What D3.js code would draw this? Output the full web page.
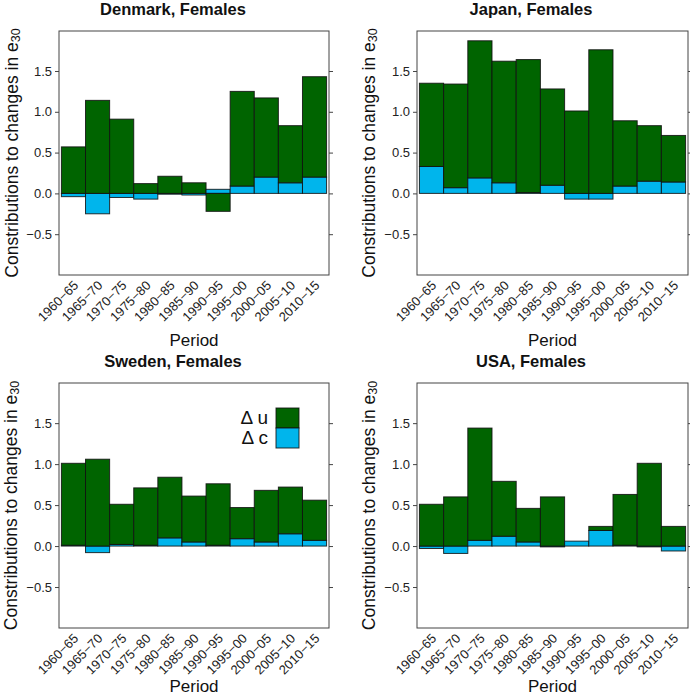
<!DOCTYPE html>
<html>
<head>
<meta charset="utf-8">
<script src="https://cdn.jsdelivr.net/npm/d3@7"></script>
<style>
  html, body { margin: 0; padding: 0; background: #fff; }
  svg { display: block; font-family: "Liberation Sans", Arial, Helvetica, sans-serif; }
</style>
</head>
<body>
<svg id="chart" width="690" height="699"></svg>
<script>
// ---- data ----
const periods = ["1960\u221265","1965\u221270","1970\u221275","1975\u221280","1980\u221285","1985\u221290","1990\u221295","1995\u221200","2000\u221205","2005\u221210","2010\u221215"];
const yTicks = [-0.5, 0.0, 0.5, 1.0, 1.5];

const denmarkU = [0.57, 1.14, 0.91, 0.12, 0.21, 0.13, -0.22, 1.16, 0.97, 0.70, 1.23];
const denmarkC = [-0.04, -0.25, -0.05, -0.07, -0.01, -0.02, 0.05, 0.09, 0.20, 0.13, 0.20];

const japanU = [1.02, 1.27, 1.68, 1.49, 1.63, 1.18, 1.01, 1.76, 0.80, 0.68, 0.57];
const japanC = [0.33, 0.07, 0.19, 0.13, 0.01, 0.10, -0.07, -0.07, 0.09, 0.15, 0.14];

const swedenU = [1.00, 1.06, 0.49, 0.70, 0.74, 0.56, 0.75, 0.38, 0.63, 0.57, 0.49];
const swedenC = [0.01, -0.08, 0.02, 0.01, 0.10, 0.05, 0.01, 0.09, 0.05, 0.15, 0.07];

const usaU = [0.51, 0.60, 1.37, 0.67, 0.41, 0.60, 0.00, 0.05, 0.62, 1.01, 0.24];
const usaC = [-0.03, -0.09, 0.07, 0.12, 0.05, -0.01, 0.06, 0.19, 0.01, -0.01, -0.06];

const seriesNames = ["\u0394 u", "\u0394 c"];
const colU = "#006400";
const colC = "#00B5EC";

// ---- layout ----
const panels = [
  {title: "Denmark, Females", u: denmarkU, c: denmarkC, left: 59, right: 329, top: 31, bottom: 275, titleX: 173, titleY: 15, ylabX: 12, perY: 346, legend: false},
  {title: "Japan, Females", u: japanU, c: japanC, left: 417, right: 688, top: 31, bottom: 275, titleX: 531, titleY: 15, ylabX: 369, perY: 346, legend: false},
  {title: "Sweden, Females", u: swedenU, c: swedenC, left: 59, right: 329, top: 383, bottom: 628, titleX: 173, titleY: 367, ylabX: 11, perY: 692, legend: true},
  {title: "USA, Females", u: usaU, c: usaC, left: 417, right: 688, top: 383, bottom: 628, titleX: 531, titleY: 367, ylabX: 369, perY: 692, legend: false}
];

const svg = d3.select("#chart");
const axisCol = "#444";

panels.forEach(p => {
  const g = svg.append("g");
  const x = d3.scaleLinear().domain([0.4, periods.length + 0.6]).range([p.left, p.right]);
  const y = d3.scaleLinear().domain([-1.0, 1.99]).range([p.bottom, p.top]);

  // bars: stack positives upward and negatives downward, c first then u
  const rects = [];
  periods.forEach((per, i) => {
    let pos = 0, neg = 0;
    [{v: p.c[i], col: colC}, {v: p.u[i], col: colU}].forEach(s => {
      let y0, y1;
      if (s.v >= 0) { y0 = pos; y1 = pos + s.v; pos = y1; }
      else { y0 = neg + s.v; y1 = neg; neg = y0; }
      rects.push({i: i + 1, y0, y1, col: s.col});
    });
  });
  g.selectAll("rect.bar").data(rects).join("rect")
    .attr("class", "bar")
    .attr("x", d => x(d.i - 0.5))
    .attr("width", d => x(d.i + 0.5) - x(d.i - 0.5))
    .attr("y", d => y(d.y1))
    .attr("height", d => Math.max(0, y(d.y0) - y(d.y1)))
    .attr("fill", d => d.col)
    .attr("stroke", "#111")
    .attr("stroke-opacity", 0.85)
    .attr("stroke-width", 1);

  // frame
  g.append("rect")
    .attr("x", p.left).attr("y", p.top)
    .attr("width", p.right - p.left).attr("height", p.bottom - p.top)
    .attr("fill", "none").attr("stroke", axisCol).attr("stroke-width", 1);

  // y axes
  const ya = g.append("g").attr("transform", `translate(${p.left},0)`)
    .call(d3.axisLeft(y).tickValues(yTicks).tickSize(4).tickPadding(3).tickFormat(d3.format(".1f")));
  ya.select(".domain").remove();
  ya.selectAll("line").attr("stroke", axisCol);
  ya.selectAll("text").attr("font-size", 13).attr("fill", "#222").attr("font-family", "Liberation Sans, Arial, sans-serif");

  const yr = g.append("g").attr("transform", `translate(${p.right},0)`)
    .call(d3.axisRight(y).tickValues(yTicks).tickSize(4).tickFormat(""));
  yr.select(".domain").remove();
  yr.selectAll("line").attr("stroke", axisCol);

  // x axis labels
  const xa = g.append("g").attr("transform", `translate(0,${p.bottom})`)
    .call(d3.axisBottom(x).tickValues(d3.range(1, periods.length + 1)).tickSize(0).tickFormat(d => periods[d - 1]));
  xa.select(".domain").remove();
  xa.selectAll("text")
    .attr("font-size", 13).attr("fill", "#222").attr("font-family", "Liberation Sans, Arial, sans-serif")
    .attr("text-anchor", "end")
    .attr("dy", "0.35em")
    .attr("y", 0)
    .attr("transform", "translate(2,8) rotate(-45)");

  // title
  g.append("text").attr("x", p.titleX).attr("y", p.titleY)
    .attr("text-anchor", "middle").attr("font-weight", "bold").attr("font-size", 16.5).attr("fill", "#111")
    .text(p.title);

  // x label
  g.append("text").attr("x", (p.left + p.right) / 2).attr("y", p.perY)
    .attr("text-anchor", "middle").attr("font-size", 17).attr("fill", "#111")
    .text("Period");

  // y label
  const yl = g.append("text")
    .attr("transform", `translate(${p.ylabX},${(p.top + p.bottom) / 2}) rotate(-90)`)
    .attr("text-anchor", "middle").attr("dominant-baseline", "central")
    .attr("font-size", 17.5).attr("fill", "#111");
  yl.append("tspan").text("Constributions to changes in e");
  yl.append("tspan").attr("font-size", 12.5).attr("dy", "0.3em").text("30");

  // legend
  if (p.legend) {
    const lx = p.left + 217, ly = p.top + 25;
    const leg = g.append("g");
    [{name: seriesNames[0], col: colU}, {name: seriesNames[1], col: colC}].forEach((s, k) => {
      leg.append("rect").attr("x", lx).attr("y", ly + k * 20).attr("width", 23).attr("height", 20)
        .attr("fill", s.col).attr("stroke", "#111").attr("stroke-opacity", 0.85);
      leg.append("text").attr("x", lx - 8).attr("y", ly + k * 20 + 16)
        .attr("text-anchor", "end").attr("font-size", 19).attr("fill", "#111").text(s.name);
    });
  }
});
</script>
</body>
</html>
